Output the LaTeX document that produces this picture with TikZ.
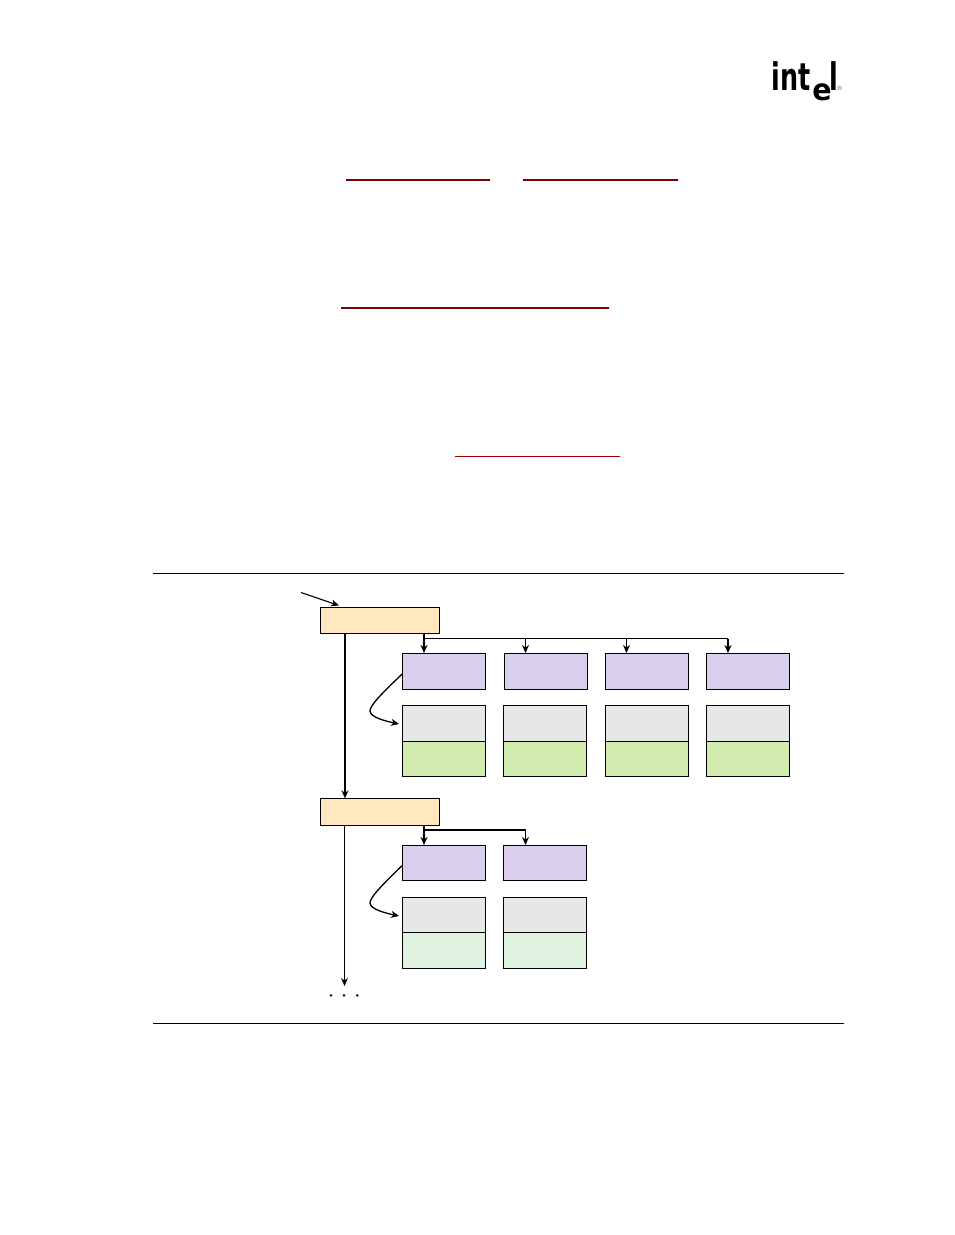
\documentclass[tikz,border=0pt]{standalone}
\usepackage{fontspec}
\setmainfont{DejaVu Sans}
\usetikzlibrary{arrows.meta}
\definecolor{qhead}{HTML}{FFE8C0}
\definecolor{qtd}{HTML}{D9CFEC}
\definecolor{buf}{HTML}{E7E7E7}
\definecolor{done}{HTML}{D2ECAF}
\definecolor{fresh}{HTML}{DFF3E0}
\definecolor{linkred}{HTML}{7F0000}
\begin{document}
\begin{tikzpicture}[x=1pt, y=-1pt, >={Stealth[length=8pt,width=7pt]}, line width=0.8pt,
	   qh/.style={draw, fill=qhead, inner sep=0pt, minimum width=119pt, minimum height=26.5pt},
	   td/.style={draw, fill=qtd, inner sep=0pt, minimum width=83.5pt, minimum height=36pt},
	   bf/.style={draw, fill=buf, inner sep=0pt, minimum width=83.5pt, minimum height=36pt},
	   ok/.style={draw, fill=done, inner sep=0pt, minimum width=83.5pt, minimum height=35.5pt},
	   nw/.style={draw, fill=fresh, inner sep=0pt, minimum width=83.5pt, minimum height=35.5pt},
	   rl/.style={draw, line width=0.7pt, inner sep=0pt, minimum width=691pt, minimum height=0pt},
	   lk/.style={draw=linkred, inner sep=0pt, minimum height=0pt, line width=1.5pt},
	   dot/.style={circle, fill=black!85, inner sep=0pt, minimum size=3pt},
	   logo/.style={inner sep=0pt, font=\fontsize{38}{38}\selectfont\bfseries, anchor=base west}]
	  \useasboundingbox (0,0) rectangle (954,1235);
	  % logo
	  \node[logo, xscale=0.67] (int) at (771,90) {int};
	  \node[logo, font=\fontsize{30}{30}\selectfont\bfseries, xscale=0.95] (e) at (812,100) {e};
	  \node[logo, xscale=0.67] (l) at (829,90) {l};
	  \node[inner sep=0pt, font=\fontsize{6}{6}\selectfont, text=black!60] (reg) at (839.5,88) {\textregistered};
	  % links in the text
	  \node[lk, minimum width=144pt] (link1) at (418,180) {};
	  \node[lk, minimum width=155pt] (link2) at (600.5,180) {};
	  \node[lk, minimum width=268pt] (link3) at (475,308) {};
	  \node[lk, minimum width=165pt, draw=linkred!80!red, line width=0.8pt] (link4) at (537.5,456.5) {};
	  % figure rules
	  \node[rl] (top) at (498.5,573.5) {};
	  \node[rl] (bot) at (498.5,1023.5) {};
	  % first queue head
	  \node[qh] (qh1) at (380,620.3) {};
	  \node[td] (td1) at (444,671.3) {};
	  \node[td] (td2) at (546,671.3) {};
	  \node[td] (td3) at (647,671.3) {};
	  \node[td] (td4) at (748,671.3) {};
	  \node[bf] (b1) at (444,723.3) {};
	  \node[bf] (b2) at (545,723.3) {};
	  \node[bf] (b3) at (647,723.3) {};
	  \node[bf] (b4) at (748,723.3) {};
	  \node[ok] (d1) at (444,759) {};
	  \node[ok] (d2) at (545,759) {};
	  \node[ok] (d3) at (647,759) {};
	  \node[ok] (d4) at (748,759) {};
	  % second queue head
	  \node[qh] (qh2) at (380,812) {};
	  \node[td, minimum height=35pt] (td5) at (444,862.8) {};
	  \node[td, minimum height=35pt] (td6) at (545,862.8) {};
	  \node[bf] (b5) at (444,915) {};
	  \node[bf] (b6) at (545,915) {};
	  \node[nw] (d5) at (444,950.5) {};
	  \node[nw] (d6) at (545,950.5) {};
	  \node[dot] (p1) at (331,995.3) {};
	  \node[dot] (p2) at (344,995.3) {};
	  \node[dot] (p3) at (357.3,995.3) {};
	  % free ends and branch points
	  \coordinate (start) at (301,592.5);
	  \coordinate (t1) at (345,633.5);
	  \coordinate (t2) at (344.5,825.3);
	  \coordinate (end) at (344.5,986);
	  \coordinate (a1) at (424,633.5);
	  \coordinate (j1) at (424,638.5);
	  \coordinate (a2) at (424,825.3);
	  \coordinate (j2) at (424,830);
	  \coordinate (c1) at (525.5,653);
	  \coordinate (c2) at (626.5,653);
	  \coordinate (c3) at (728,653);
	  \coordinate (c4) at (525.5,845);
	  % connectors
	  \draw[->, line width=1.1pt] (start)--(339,605.5);
	  \draw[->, line width=1.6pt] (t1)--(t1 |- qh2.north);
	  \draw[->, line width=0.9pt] (t2)--(end);
	  \draw[->, line width=1.2pt] (a1)--(a1 |- td1.north);
	  \draw (j1)--(j1 -| c3);
	  \draw[->] (j1 -| c1)--(c1);
	  \draw[->] (j1 -| c2)--(c2);
	  \draw[->, line width=1.1pt] (j1 -| c3)--(c3);
	  \draw[->, line width=1.2pt] (a2)--(a2 |- td5.north);
	  \draw[->, line width=1.6pt] (j2)--(j2 -| c4)--(c4);
	  \draw[->, line width=1.3pt] (td1.west)+(0,3) .. controls (378,697) and (370,706) .. (370,711) .. controls (370,717) and (385,721) .. (399,724);
	  \draw[->, line width=1.3pt] (td5.west)+(0,3) .. controls (378,889) and (370,898) .. (370,903) .. controls (370,909) and (385,913) .. (399,916);
	\end{tikzpicture}
\end{document}
